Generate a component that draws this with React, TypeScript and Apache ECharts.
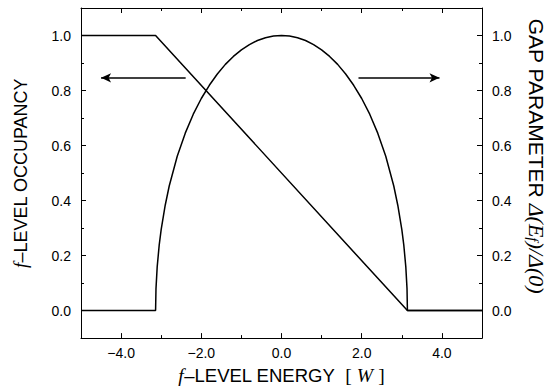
import React, { useEffect, useRef } from "react";
import * as echarts from "echarts";

const xTicks = [-4, -2, 0, 2, 4];
const xMinorTicks = [-5, -3, -1, 1, 3, 5];
const yTicks = [0, 0.2, 0.4, 0.6, 0.8, 1.0];
const yMinorTicks = [-0.1, 0.1, 0.3, 0.5, 0.7, 0.9, 1.1];

// f-level occupancy (left axis)
const occX = [-5, -3.14, 3.14, 5];
const occY = [1, 1, 0, 0];

// gap parameter Δ(E_f)/Δ(0) (right axis)
const gapX = [
  -5, -3.14, -3.13, -3.1, -3.05, -3.0, -2.9, -2.8, -2.6, -2.4, -2.2, -2.0, -1.8, -1.6,
  -1.4, -1.2, -1.0, -0.8, -0.6, -0.4, -0.2, 0, 0.2, 0.4, 0.6, 0.8, 1.0, 1.2, 1.4, 1.6,
  1.8, 2.0, 2.2, 2.4, 2.6, 2.8, 2.9, 3.0, 3.05, 3.1, 3.13, 3.14, 5,
];
const gapY = [
  0, 0, 0.08, 0.159, 0.238, 0.295, 0.383, 0.453, 0.561, 0.645, 0.714, 0.771, 0.819, 0.86,
  0.895, 0.924, 0.948, 0.967, 0.982, 0.992, 0.998, 1.0, 0.998, 0.992, 0.982, 0.967, 0.948,
  0.924, 0.895, 0.86, 0.819, 0.771, 0.714, 0.645, 0.561, 0.453, 0.383, 0.295, 0.238, 0.159,
  0.08, 0, 0,
];

// arrows: [x start, x end, y]
const leftArrow = [-2.39, -4.5, 0.846];
const rightArrow = [1.92, 3.94, 0.846];

const FONT = "'Liberation Sans', Arial, Helvetica, sans-serif";
const SERIF = "'Liberation Serif', 'Times New Roman', serif";

const fmt = (v: number) => (v < 0 ? "\u2212" : "") + Math.abs(v).toFixed(1);

export default function App() {
  const ref = useRef<HTMLDivElement>(null);
  useEffect(() => {
    if (!ref.current) return;
    const chart = echarts.init(ref.current, undefined, { renderer: "svg" });
    const black = "#000";
    const axisLine = { show: true, onZero: false, lineStyle: { color: black, width: 1 } };
    const noLine = { show: false, onZero: false };
    const majorX = (pos: string, labels: boolean, extra: any = {}) => ({
      type: "value",
      min: -5,
      max: 5,
      position: pos,
      axisLine,
      axisTick: { show: true, inside: true, length: 5, customValues: xTicks, lineStyle: { color: black } },
      axisLabel: labels
        ? { show: true, customValues: xTicks, formatter: fmt, color: black, fontSize: 14, fontFamily: FONT, margin: 8 }
        : { show: false },
      splitLine: { show: false },
      ...extra,
    });
    const minorX = (pos: string) => ({
      type: "value",
      min: -5,
      max: 5,
      position: pos,
      axisLine: noLine,
      axisTick: { show: true, inside: true, length: 3, customValues: xMinorTicks, lineStyle: { color: black } },
      axisLabel: { show: false },
      splitLine: { show: false },
    });
    const majorY = (pos: string, extra: any = {}) => ({
      type: "value",
      min: -0.1,
      max: 1.1,
      position: pos,
      axisLine,
      axisTick: { show: true, inside: true, length: 5, customValues: yTicks, lineStyle: { color: black } },
      axisLabel: { show: true, customValues: yTicks, formatter: fmt, color: black, fontSize: 14, fontFamily: FONT, margin: 10 },
      splitLine: { show: false },
      ...extra,
    });
    const minorY = (pos: string) => ({
      type: "value",
      min: -0.1,
      max: 1.1,
      position: pos,
      axisLine: noLine,
      axisTick: { show: true, inside: true, length: 3, customValues: yMinorTicks, lineStyle: { color: black } },
      axisLabel: { show: false },
      splitLine: { show: false },
    });
    const mkRich = (s: number) => ({
      it: { fontFamily: SERIF, fontStyle: "italic", fontSize: s + 1, color: black },
      br: { fontFamily: SERIF, fontSize: s + 1, color: black },
      sub: { fontFamily: SERIF, fontStyle: "italic", fontSize: s - 6, color: black, verticalAlign: "bottom", padding: [7, 0, 0, 0] },
    });
    const nameStyle = (s: number) => ({ fontFamily: FONT, fontSize: s, color: black, rich: mkRich(s) });

    chart.setOption({
      animation: false,
      backgroundColor: "#fff",
      grid: { left: 81, right: 68, top: 8, bottom: 47, containLabel: false },
      xAxis: [
        majorX("bottom", true, {
          name: "{it|f}\u2013LEVEL ENERGY  {br|[} {it|W} {br|]}",
          nameLocation: "middle",
          nameGap: 18,
          nameTextStyle: { ...nameStyle(18.5), verticalAlign: "top" },
        }),
        minorX("bottom"),
        majorX("top", false),
        minorX("top"),
      ],
      yAxis: [
        majorY("left", {
          name: "{it|f}\u2013LEVEL OCCUPANCY",
          nameLocation: "middle",
          nameGap: 51,
          nameTextStyle: nameStyle(18),
        }),
        minorY("left"),
        majorY("right", {
          name: "GAP PARAMETER {it|\u0394(E}{sub|f}{it|)/\u0394(0)}",
          nameLocation: "middle",
          nameRotate: -90,
          nameGap: 43,
          nameTextStyle: { ...nameStyle(21), padding: [0, 34, 0, 0] },
        }),
        minorY("right"),
      ],
      series: [
        {
          type: "line",
          name: "occupancy",
          xAxisIndex: 0,
          yAxisIndex: 0,
          showSymbol: false,
          symbol: "none",
          lineStyle: { color: black, width: 1.5 },
          data: occX.map((x, i) => [x, occY[i]]),
        },
        {
          type: "line",
          name: "gap",
          xAxisIndex: 0,
          yAxisIndex: 2,
          showSymbol: false,
          symbol: "none",
          lineStyle: { color: black, width: 1.5 },
          data: gapX.map((x, i) => [x, gapY[i]]),
          markLine: {
            silent: true,
            symbol: ["none", "arrow"],
            symbolSize: [7, 10],
            label: { show: false },
            lineStyle: { color: black, width: 1.5, type: "solid" },
            data: [
              [{ coord: [leftArrow[0], leftArrow[2]] }, { coord: [leftArrow[1], leftArrow[2]] }],
              [{ coord: [rightArrow[0], rightArrow[2]] }, { coord: [rightArrow[1], rightArrow[2]] }],
            ],
          },
        },
      ],
    });
    return () => chart.dispose();
  }, []);
  return (
    <div
      ref={ref}
      style={{ position: "fixed", left: 0, top: 0, width: 555, height: 390, background: "#fff" }}
    />
  );
}
